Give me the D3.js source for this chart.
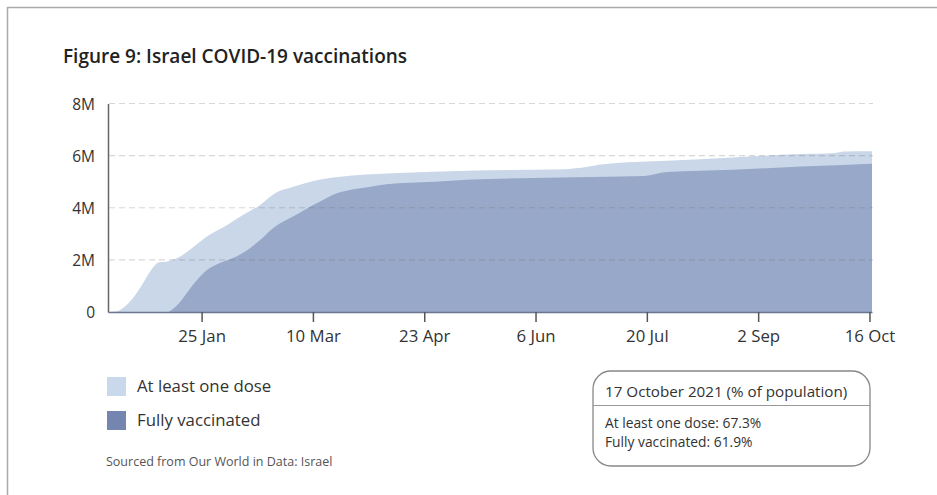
<!DOCTYPE html>
<html>
<head>
<meta charset="utf-8">
<script src="https://cdn.jsdelivr.net/npm/d3@7"></script>
<style>
  html, body { margin: 0; padding: 0; background: #fff; }
  svg { display: block; font-family: "Open Sans", "Noto Sans", sans-serif; }
</style>
</head>
<body>
<svg id="chart" width="937" height="495"></svg>
<script>
// Cumulative people vaccinated in Israel (millions), sampled dates
const oneDoseDates = ["2020-12-19","2020-12-22","2020-12-27","2021-01-01","2021-01-05","2021-01-08","2021-01-12","2021-01-16","2021-01-21","2021-01-28","2021-02-04","2021-02-10","2021-02-17","2021-02-23","2021-03-02","2021-03-09","2021-03-18","2021-04-13","2021-05-10","2021-06-18","2021-06-26","2021-07-01","2021-07-07","2021-07-28","2021-08-23","2021-09-19","2021-10-02","2021-10-06","2021-10-17"];
const oneDoseValues = [0, 0.02, 0.33, 0.97, 1.6, 1.9, 1.95, 2.1, 2.44, 2.95, 3.33, 3.7, 4.1, 4.56, 4.8, 5.0, 5.16, 5.33, 5.42, 5.48, 5.56, 5.65, 5.71, 5.8, 5.93, 6.06, 6.1, 6.16, 6.17];

const fullyDates = ["2021-01-12","2021-01-16","2021-01-21","2021-01-27","2021-02-01","2021-02-06","2021-02-12","2021-02-17","2021-02-23","2021-03-02","2021-03-09","2021-03-14","2021-03-18","2021-03-25","2021-03-31","2021-04-08","2021-04-27","2021-05-10","2021-06-05","2021-07-10","2021-07-19","2021-07-28","2021-08-23","2021-09-19","2021-10-17"];
const fullyValues = [0, 0.33, 0.97, 1.6, 1.87, 2.05, 2.37, 2.75, 3.27, 3.65, 4.05, 4.3, 4.5, 4.69, 4.78, 4.9, 5.0, 5.07, 5.14, 5.2, 5.22, 5.37, 5.46, 5.58, 5.69];

const xTickDates = ["2021-01-25","2021-03-10","2021-04-23","2021-06-06","2021-07-20","2021-09-02","2021-10-16"];
const xTickLabels = ["25 Jan","10 Mar","23 Apr","6 Jun","20 Jul","2 Sep","16 Oct"];
const yTickValues = [0, 2, 4, 6, 8];
const yTickLabels = ["0", "2M", "4M", "6M", "8M"];

const seriesNames = ["At least one dose", "Fully vaccinated"];
const latestTitle = "17 October 2021 (% of population)";
const latestPercents = [67.3, 61.9];

const parse = d3.timeParse("%Y-%m-%d");
const oneDose = oneDoseDates.map((d, i) => ({ date: parse(d), v: oneDoseValues[i] }));
const fully = fullyDates.map((d, i) => ({ date: parse(d), v: fullyValues[i] }));

const colLight = "#c9d7e9";
const colDark = "#97a8c8";
const legendLight = "#c9d8ea";
const legendDark = "#7486b0";
const textCol = "#333";
const font = "'Open Sans', sans-serif";

const svg = d3.select("#chart");

// page frame
svg.append("path")
  .attr("d", "M7.5,495 V7.5 H937")
  .attr("fill", "none").attr("stroke", "#aaa").attr("stroke-width", 1.5);

svg.append("text")
  .attr("x", 63).attr("y", 63)
  .attr("font-size", 19).attr("font-weight", 600).attr("fill", "#222")
  .text("Figure 9: Israel COVID-19 vaccinations");

const x = d3.scaleTime()
  .domain([parse("2020-12-19"), parse("2021-10-17")])
  .range([108, 872]);
const y = d3.scaleLinear().domain([0, 8]).range([312, 103.5]);

const area = d3.area()
  .x(d => x(d.date)).y0(y(0)).y1(d => y(d.v))
  .curve(d3.curveMonotoneX);

svg.append("path").datum(oneDose).attr("d", area).attr("fill", colLight);
svg.append("path").datum(fully).attr("d", area).attr("fill", colDark);

// dashed gridlines over the areas
svg.append("g")
  .selectAll("line")
  .data(yTickValues.filter(v => v > 0))
  .join("line")
  .attr("x1", 109).attr("x2", 873)
  .attr("y1", d => y(d)).attr("y2", d => y(d))
  .attr("stroke", "rgba(110,110,110,0.28)")
  .attr("stroke-width", 1.2)
  .attr("stroke-dasharray", "6,4");

// y axis
const yAxis = d3.axisLeft(y)
  .tickValues(yTickValues)
  .tickSize(0).tickPadding(13)
  .tickFormat((d, i) => yTickLabels[i]);
const gy = svg.append("g").attr("transform", "translate(108,0)").call(yAxis);
gy.select(".domain").attr("stroke", "#666").attr("stroke-width", 1.5);
gy.selectAll("text").attr("font-size", 15.5).attr("fill", textCol)
  .attr("font-family", font).attr("dy", "0.36em");

// x axis
const xAxis = d3.axisBottom(x)
  .tickValues(xTickDates.map(parse))
  .tickSize(10).tickPadding(8)
  .tickSizeOuter(0)
  .tickFormat((d, i) => xTickLabels[i]);
const gx = svg.append("g").attr("transform", "translate(0,312)").call(xAxis);
gx.select(".domain").attr("stroke", "#6b7690").attr("stroke-width", 1.5);
gx.selectAll(".tick line").attr("stroke", "#555").attr("stroke-width", 1.5);
gx.selectAll("text").attr("font-size", 16.8).attr("fill", textCol)
  .attr("font-family", font);

// legend
const legend = svg.append("g");
[legendLight, legendDark].forEach((c, i) => {
  legend.append("rect")
    .attr("x", 107).attr("y", 377 + i * 34)
    .attr("width", 19).attr("height", 19)
    .attr("fill", c);
  legend.append("text")
    .attr("x", 137).attr("y", 392 + i * 34)
    .attr("font-size", 16.8).attr("fill", textCol)
    .text(seriesNames[i]);
});

svg.append("text")
  .attr("x", 106).attr("y", 466)
  .attr("font-size", 12.5).attr("fill", "#555")
  .text("Sourced from Our World in Data: Israel");

// latest figures box
const box = svg.append("g");
box.append("rect")
  .attr("x", 593).attr("y", 371).attr("width", 277).attr("height", 95)
  .attr("rx", 18).attr("ry", 18)
  .attr("fill", "#fff").attr("stroke", "#888").attr("stroke-width", 1.3);
box.append("line")
  .attr("x1", 593).attr("x2", 870).attr("y1", 405.5).attr("y2", 405.5)
  .attr("stroke", "#999").attr("stroke-width", 1);
box.append("text")
  .attr("x", 605).attr("y", 397)
  .attr("font-size", 15.2).attr("fill", textCol)
  .text(latestTitle);
seriesNames.forEach((n, i) => {
  box.append("text")
    .attr("x", 605).attr("y", 428 + i * 18.5)
    .attr("font-size", 13.8).attr("fill", textCol)
    .text(`${n}: ${latestPercents[i]}%`);
});
</script>
</body>
</html>
